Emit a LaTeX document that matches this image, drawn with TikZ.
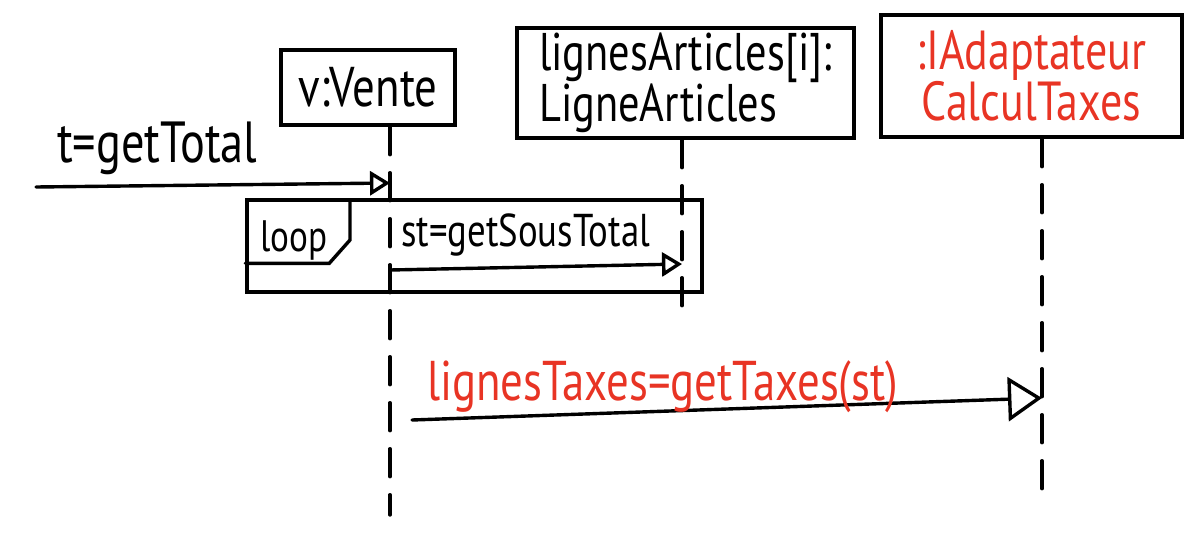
\documentclass[tikz,border=0pt]{standalone}
\usepackage{fontspec}
\setmainfont{PT Sans}
\newfontfamily\hand{PT Sans}[FakeStretch=0.8]
\usetikzlibrary{arrows.meta,positioning}
\definecolor{sketchred}{RGB}{232,52,36}

\begin{document}
\begin{tikzpicture}[x=1pt, y=-1pt, line width=3.4pt, line cap=round,
  every node/.style={font=\hand},
  objbox/.style={draw, line width=3.4pt, align=left, inner sep=0pt},
  lifeline/.style={dash pattern=on 28pt off 18pt},
  msg/.style={-{Triangle[open, length=20pt, width=24pt, line width=3.4pt]}}]
\useasboundingbox (0,0) rectangle (1204,533);

% Objects
\node[objbox, minimum width=174pt, minimum height=75pt, font=\hand\fontsize{56}{44}\selectfont] (vente) at (368,87.5) {v:Vente};
\node[objbox, minimum width=337pt, minimum height=110pt, font=\hand\fontsize{53}{42}\selectfont] (lignes) at (685.5,83) {lignesArticles[i]:\\LigneArticles};
\node[objbox, minimum width=301pt, minimum height=122pt, align=center, text=sketchred, font=\hand\fontsize{55}{44}\selectfont] (adapt) at (1031.5,76) {:IAdaptateur\\CalculTaxes};

% Lifelines
\coordinate (venteEnd) at (390,515);
\coordinate (lignesEnd) at (682,317);
\coordinate (adaptEnd) at (1042,493);
\draw[lifeline] (vente.south -| venteEnd) -- (venteEnd);
\draw[lifeline] (lignes.south -| lignesEnd) -- (lignesEnd);
\draw[lifeline] (adapt.south -| adaptEnd) -- (adaptEnd);

% t=getTotal
\coordinate (caller) at (36,187);
\coordinate (v1) at (venteEnd |- 0,183);
\draw[msg] (caller) -- (v1);
\node[anchor=base west, font=\hand\fontsize{58}{58}\selectfont] (totalLbl) at (52,162) {t=getTotal};

% Loop frame
\node[draw, minimum width=455pt, minimum height=92pt, inner sep=0pt] (loopframe) at (474.5,246) {};
\coordinate (tabEnd) at (350,200);
\draw (loopframe.north west) ++(0,65) -- ++(84,0) -- (350,240) -- (tabEnd);
\node[anchor=base west, font=\hand\fontsize{44}{44}\selectfont] (loopLbl) at (255,251) {loop};

% st=getSousTotal
\coordinate (v2) at (venteEnd |- 0,270);
\coordinate (l1) at (lignesEnd |- 0,264);
\draw[msg] (v2) -- (l1);
\node[anchor=base west, font=\hand\fontsize{46}{46}\selectfont] (sousLbl) at (396,246) {st=getSousTotal};

% lignesTaxes=getTaxes(st)
\coordinate (v3) at (412,420);
\coordinate (a1) at (adaptEnd |- 0,398);
\draw[-{Triangle[open, length=34pt, width=44pt, line width=3.4pt]}] (v3) -- (a1);
\node[anchor=base west, text=sketchred, font=\hand\fontsize{56}{56}\selectfont] (taxesLbl) at (422,400) {lignesTaxes=getTaxes(st)};

\end{tikzpicture}
\end{document}
